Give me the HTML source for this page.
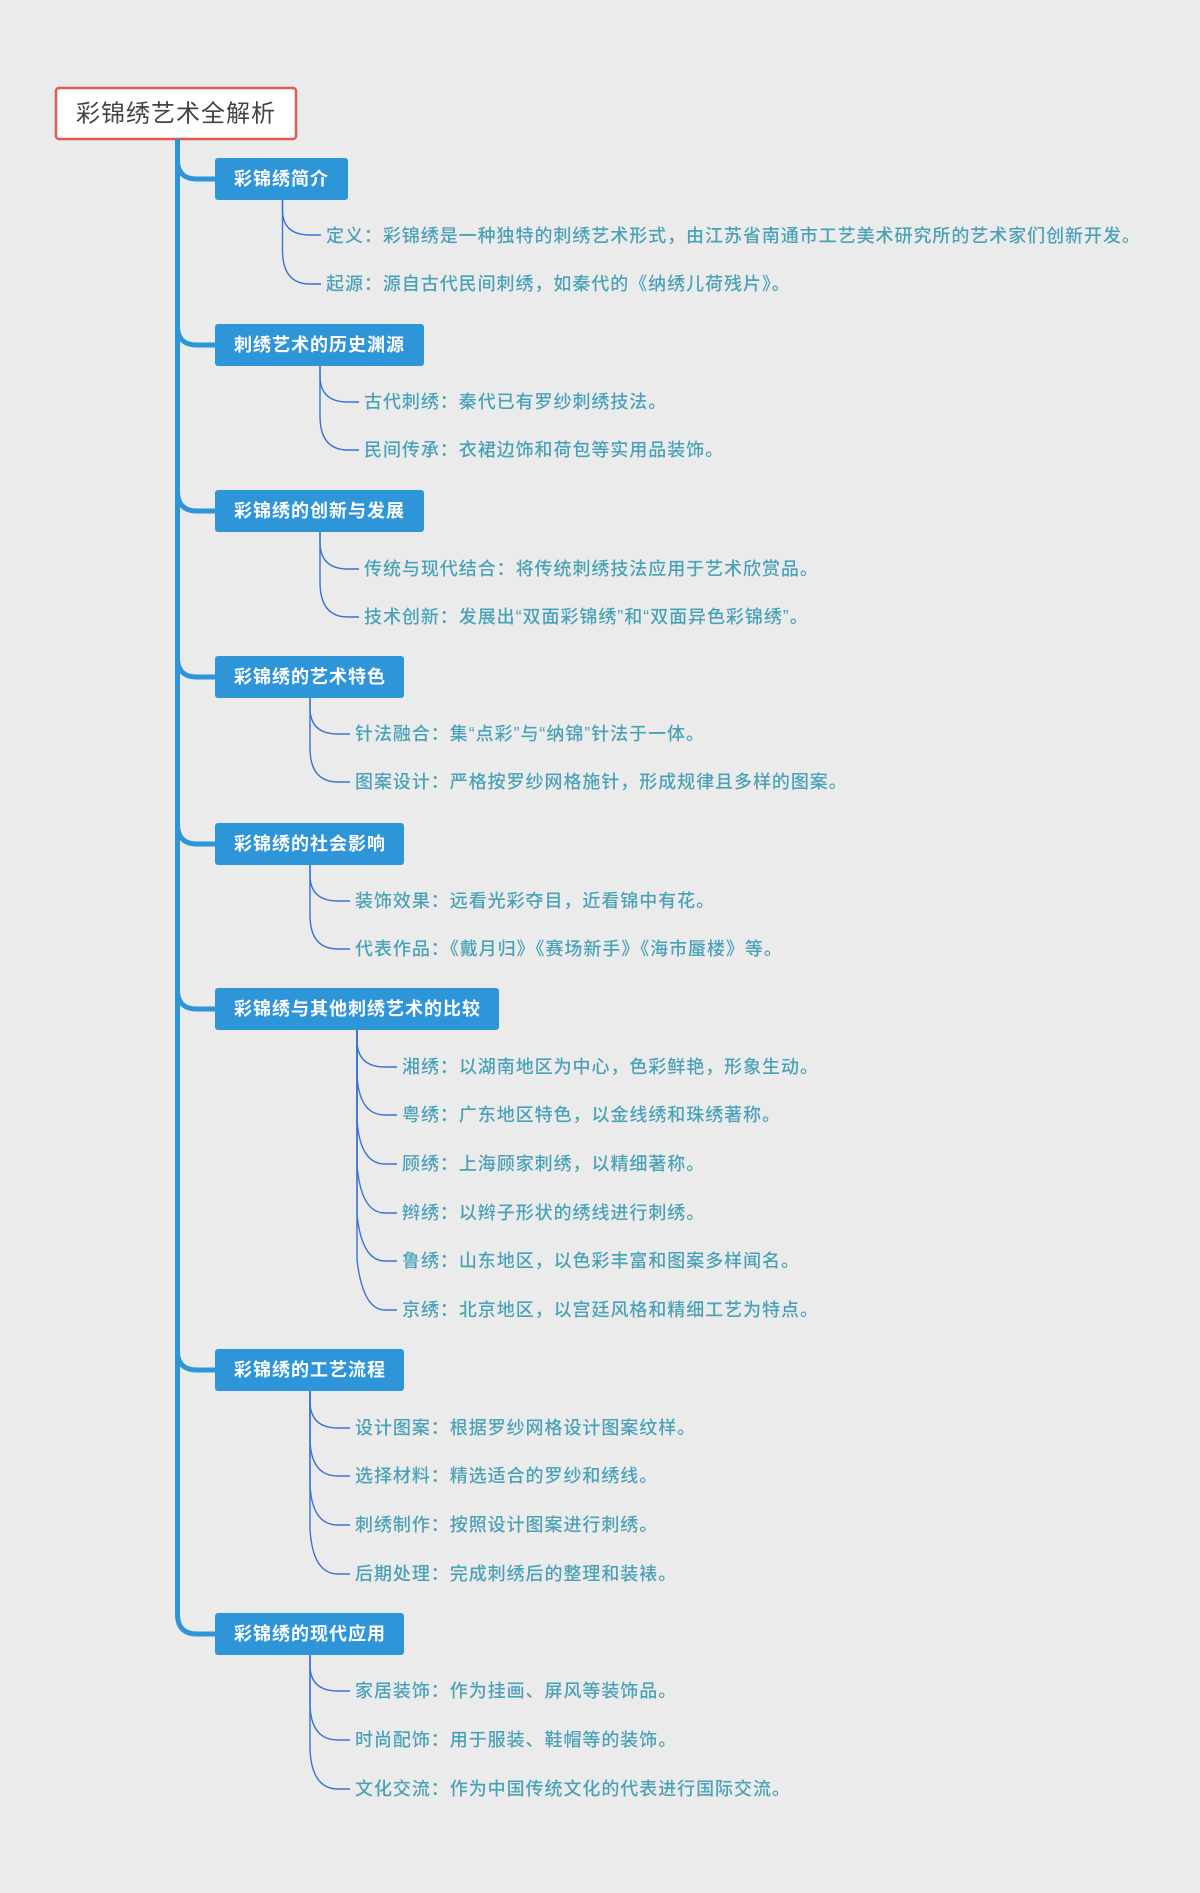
<!DOCTYPE html>
<html><head><meta charset="utf-8"><style>
html,body{margin:0;padding:0;background:#ebebeb;}
svg{display:block;}
text{font-family:"Liberation Sans","Noto Sans CJK SC",sans-serif;}
.c{font-size:18px;fill:#4aa2b9;letter-spacing:0.95px;font-weight:500;}
.b{font-size:18px;fill:#fff;font-weight:bold;letter-spacing:1px;}
</style></head><body>
<svg width="1200" height="1893" viewBox="0 0 1200 1893" xmlns="http://www.w3.org/2000/svg">
<rect width="1200" height="1893" fill="#ebebeb"/>
<rect x="56" y="88" width="240" height="51" rx="3" fill="#fff" stroke="#e05a5a" stroke-width="2.5"/>
<text x="176" y="114" font-size="24" fill="#444" text-anchor="middle" dominant-baseline="central" style="letter-spacing:1px">彩锦绣艺术全解析</text>
<g fill="none" stroke="#2e96d8" stroke-width="5">
<path d="M177.5 139 L177.5 1614"/>
<path d="M177.5 160 Q177.5 179 197 179 L216 179"/>
<path d="M177.5 326 Q177.5 345 197 345 L216 345"/>
<path d="M177.5 491 Q177.5 511 197 511 L216 511"/>
<path d="M177.5 658 Q177.5 677 197 677 L216 677"/>
<path d="M177.5 824 Q177.5 844 197 844 L216 844"/>
<path d="M177.5 990 Q177.5 1009 197 1009 L216 1009"/>
<path d="M177.5 1351 Q177.5 1370 197 1370 L216 1370"/>
<path d="M177.5 1614 Q177.5 1634 197 1634 L216 1634"/>
</g>
<g fill="#2e96d8">
<rect x="215" y="158" width="133" height="42" rx="3"/>
<rect x="215" y="324" width="209" height="42" rx="3"/>
<rect x="215" y="490" width="209" height="42" rx="3"/>
<rect x="215" y="656" width="189" height="42" rx="3"/>
<rect x="215" y="823" width="189" height="42" rx="3"/>
<rect x="215" y="988" width="284" height="42" rx="3"/>
<rect x="215" y="1349" width="189" height="42" rx="3"/>
<rect x="215" y="1613" width="189" height="42" rx="3"/>
</g>
<g class="b">
<text x="234" y="179" dominant-baseline="central">彩锦绣简介</text>
<text x="234" y="345" dominant-baseline="central">刺绣艺术的历史渊源</text>
<text x="234" y="511" dominant-baseline="central">彩锦绣的创新与发展</text>
<text x="234" y="677" dominant-baseline="central">彩锦绣的艺术特色</text>
<text x="234" y="844" dominant-baseline="central">彩锦绣的社会影响</text>
<text x="234" y="1009" dominant-baseline="central">彩锦绣与其他刺绣艺术的比较</text>
<text x="234" y="1370" dominant-baseline="central">彩锦绣的工艺流程</text>
<text x="234" y="1634" dominant-baseline="central">彩锦绣的现代应用</text>
</g>
<g fill="none" stroke="#3a72d8" stroke-width="1.4">
<path d="M282.5 200 L282.5 210 Q282.5 235 310 235 L321 235"/>
<path d="M282.5 200 L282.5 250 Q282.5 284 310 284 L321 284"/>
<path d="M320 366 L320 376 Q320 402 348 402 L359 402"/>
<path d="M320 366 L320 416 Q320 450 348 450 L359 450"/>
<path d="M320 532 L320 542 Q320 569 348 569 L359 569"/>
<path d="M320 532 L320 582 Q320 617 348 617 L359 617"/>
<path d="M310 698 L310 708 Q310 734 338 734 L350 734"/>
<path d="M310 698 L310 748 Q310 782 338 782 L350 782"/>
<path d="M310 865 L310 875 Q310 901 338 901 L350 901"/>
<path d="M310 865 L310 915 Q310 949 338 949 L350 949"/>
<path d="M357 1030 L357 1040 Q357 1067 385 1067 L397 1067"/>
<path d="M357 1030 L357 1075 Q359 1115 385 1115 L397 1115"/>
<path d="M357 1030 L357 1120 Q360 1164 385 1164 L397 1164"/>
<path d="M357 1030 L357 1165 Q361 1213 385 1213 L397 1213"/>
<path d="M357 1030 L357 1215 Q362 1261 385 1261 L397 1261"/>
<path d="M357 1030 L357 1260 Q363 1310 385 1310 L397 1310"/>
<path d="M310 1391 L310 1401 Q310 1428 338 1428 L350 1428"/>
<path d="M310 1391 L310 1440 Q311 1476 338 1476 L350 1476"/>
<path d="M310 1391 L310 1485 Q312 1525 338 1525 L350 1525"/>
<path d="M310 1391 L310 1530 Q313 1574 338 1574 L350 1574"/>
<path d="M310 1655 L310 1665 Q310 1691 338 1691 L350 1691"/>
<path d="M310 1655 L310 1705 Q311 1740 338 1740 L350 1740"/>
<path d="M310 1655 L310 1750 Q312 1789 338 1789 L350 1789"/>
</g>
<g class="c">
<text x="326" y="236" dominant-baseline="central">定义：彩锦绣是一种独特的刺绣艺术形式，由江苏省南通市工艺美术研究所的艺术家们创新开发。</text>
<text x="326" y="284" dominant-baseline="central">起源：源自古代民间刺绣，如秦代的《纳绣儿荷残片》。</text>
<text x="364" y="402" dominant-baseline="central">古代刺绣：秦代已有罗纱刺绣技法。</text>
<text x="364" y="450" dominant-baseline="central">民间传承：衣裙边饰和荷包等实用品装饰。</text>
<text x="364" y="569" dominant-baseline="central">传统与现代结合：将传统刺绣技法应用于艺术欣赏品。</text>
<text x="364" y="617" dominant-baseline="central">技术创新：发展出“双面彩锦绣”和“双面异色彩锦绣”。</text>
<text x="355" y="734" dominant-baseline="central">针法融合：集“点彩”与“纳锦”针法于一体。</text>
<text x="355" y="782" dominant-baseline="central">图案设计：严格按罗纱网格施针，形成规律且多样的图案。</text>
<text x="355" y="901" dominant-baseline="central">装饰效果：远看光彩夺目，近看锦中有花。</text>
<text x="355" y="949" dominant-baseline="central">代表作品：《戴月归》《赛场新手》《海市蜃楼》等。</text>
<text x="402" y="1067" dominant-baseline="central">湘绣：以湖南地区为中心，色彩鲜艳，形象生动。</text>
<text x="402" y="1115" dominant-baseline="central">粤绣：广东地区特色，以金线绣和珠绣著称。</text>
<text x="402" y="1164" dominant-baseline="central">顾绣：上海顾家刺绣，以精细著称。</text>
<text x="402" y="1213" dominant-baseline="central">辫绣：以辫子形状的绣线进行刺绣。</text>
<text x="402" y="1261" dominant-baseline="central">鲁绣：山东地区，以色彩丰富和图案多样闻名。</text>
<text x="402" y="1310" dominant-baseline="central">京绣：北京地区，以宫廷风格和精细工艺为特点。</text>
<text x="355" y="1428" dominant-baseline="central">设计图案：根据罗纱网格设计图案纹样。</text>
<text x="355" y="1476" dominant-baseline="central">选择材料：精选适合的罗纱和绣线。</text>
<text x="355" y="1525" dominant-baseline="central">刺绣制作：按照设计图案进行刺绣。</text>
<text x="355" y="1574" dominant-baseline="central">后期处理：完成刺绣后的整理和装裱。</text>
<text x="355" y="1691" dominant-baseline="central">家居装饰：作为挂画、屏风等装饰品。</text>
<text x="355" y="1740" dominant-baseline="central">时尚配饰：用于服装、鞋帽等的装饰。</text>
<text x="355" y="1789" dominant-baseline="central">文化交流：作为中国传统文化的代表进行国际交流。</text>
</g>
</svg>
</body></html>
